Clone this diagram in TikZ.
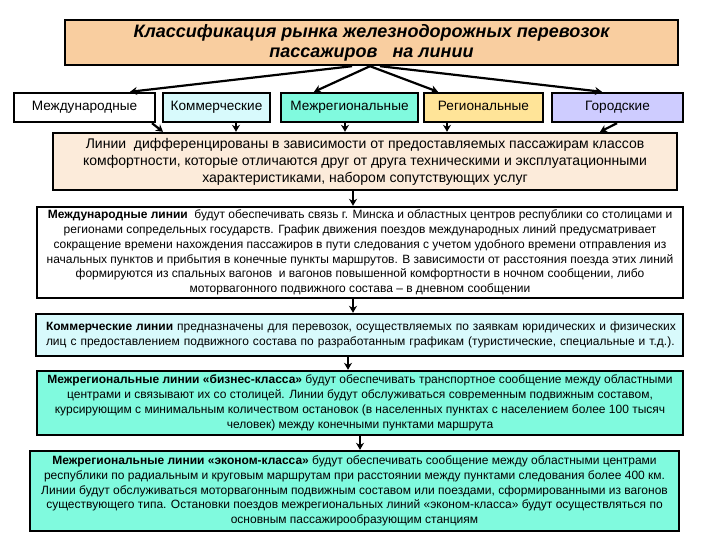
\documentclass[tikz,border=0pt]{standalone}
\usepackage{fontspec}
\setmainfont{Liberation Sans}
\usetikzlibrary{arrows.meta}
\definecolor{titlefill}{RGB}{249,206,160}
\definecolor{descfill}{RGB}{252,235,218}
\definecolor{commfill}{RGB}{216,250,252}
\definecolor{aquafill}{RGB}{128,250,222}
\definecolor{regfill}{RGB}{255,228,152}
\definecolor{cityfill}{RGB}{206,204,255}
\tikzset{
  box/.style={draw=black, line width=2.4pt, inner sep=0pt, align=center},
  rowbox/.style={box, minimum height=29pt, text height=10pt, text depth=3pt, font=\fontsize{13.6}{15}\selectfont},
  textbox/.style={box, font=\fontsize{12}{14.8}\selectfont},
  arr/.style={draw=black, line width=2.2pt, -{Stealth[length=7pt,width=8pt]}},
}
\begin{document}
\begin{tikzpicture}[x=1pt,y=-1pt]
\useasboundingbox (0,0) rectangle (720,540);
\node[box, fill=titlefill, minimum width=613pt, minimum height=45pt,
  font=\fontsize{18}{20}\selectfont\bfseries\itshape] (title) at (371.5,42.5)
  {Классификация рынка железнодорожных перевозок\\пассажиров\ \ \ на линии};
\node[rowbox, fill=white, minimum width=141pt] (m1) at (84.5,107.5) {Международные};
\node[rowbox, fill=commfill, minimum width=107pt] (m2) at (216.5,107.5) {Коммерческие};
\node[rowbox, fill=aquafill, minimum width=137pt] (m3) at (349.5,107.5) {Межрегиональные};
\node[rowbox, fill=regfill, minimum width=119pt] (m4) at (483.5,107.5) {Региональные};
\node[rowbox, fill=cityfill, minimum width=131pt] (m5) at (617.5,107.5) {Городские};
\node[box, fill=descfill, minimum width=624pt, minimum height=57pt,
  font=\fontsize{14}{17}\selectfont] (desc) at (365,161.5)
  {Линии\ \ дифференцированы в зависимости от предоставляемых пассажирам классов\\
   комфортности, которые отличаются друг от друга техническими и эксплуатационными\\
   характеристиками, набором сопутствующих услуг};
\node[textbox, fill=white, minimum width=646pt, minimum height=91pt] (b2) at (360,252.5)
  {\textbf{Международные линии}\ \ будут обеспечивать связь г. Минска и областных центров республики со столицами и\\
   регионами сопредельных государств. График движения поездов международных линий предусматривает\\
   сокращение времени нахождения пассажиров в пути следования с учетом удобного времени отправления из\\
   начальных пунктов и прибытия в конечные пункты маршрутов. В зависимости от расстояния поезда этих линий\\
   формируются из спальных вагонов\ \ и вагонов повышенной комфортности в ночном сообщении, либо\\
   моторвагонного подвижного состава – в дневном сообщении};
\node[textbox, fill=commfill, minimum width=647pt, minimum height=42pt, align=left, text width=640pt] (b3) at (359.5,335)
  {\hspace*{6.5pt}\textbf{Коммерческие линии} предназначены для перевозок, осуществляемых по заявкам юридических и физических\\
   \hspace*{6.5pt}лиц с предоставлением подвижного состава по разработанным графикам (туристические, специальные и т.д.).};
\node[textbox, fill=aquafill, minimum width=646pt, minimum height=64pt] (b4) at (360,403)
  {\textbf{Межрегиональные линии «бизнес-класса»} будут обеспечивать транспортное сообщение между областными\\
   центрами и связывают их со столицей. Линии будут обслуживаться современным подвижным составом,\\
   курсирующим с минимальным количеством остановок (в населенных пунктах с населением более 100 тысяч\\
   человек) между конечными пунктами маршрута};
\node[textbox, fill=aquafill, minimum width=649pt, minimum height=80pt] (b5) at (354.5,491)
  {\textbf{Межрегиональные линии «эконом-класса»} будут обеспечивать сообщение между областными центрами\\
   республики по радиальным и круговым маршрутам при расстоянии между пунктами следования более 400 км.\\
   Линии будут обслуживаться моторвагонным подвижным составом или поездами, сформированными из вагонов\\
   существующего типа. Остановки поездов межрегиональных линий «эконом-класса» будут осуществляться по\\
   основным пассажирообразующим станциям};
% title to row
\draw[arr] ([xshift=-19.5pt]title.south) -- ([xshift=45.5pt]m1.north);
\draw[arr] ([xshift=-1.5pt]title.south) -- ([xshift=-35.5pt]m3.north);
\draw[arr] ([xshift=-1.5pt]title.south) -- ([xshift=-45.5pt]m4.north);
\draw[arr] ([xshift=8.5pt]title.south) -- ([xshift=-15.5pt]m5.north);
% row to desc
\draw[arr] ([xshift=67.5pt]m1.south) -- ([xshift=-202pt]desc.north);
\draw[arr] ([xshift=19.5pt]m2.south) -- ([xshift=19.5pt]m2.south |- desc.north);
\draw[arr] ([xshift=-4.5pt]m3.south) -- ([xshift=-4.5pt]m3.south |- desc.north);
\draw[arr] ([xshift=-36.5pt]m4.south) -- ([xshift=-36.5pt]m4.south |- desc.north);
\draw[arr] ([xshift=-0.5pt]m5.south) -- ([xshift=235pt]desc.north);
% vertical chain
\draw[arr] ([xshift=-12pt]desc.south) -- ([xshift=-12pt]desc.south |- b2.north);
\draw[arr] ([xshift=-7pt]b2.south) -- ([xshift=-7pt]b2.south |- b3.north);
\draw[arr] ([xshift=-11.5pt]b3.south) -- ([xshift=-11.5pt]b3.south |- b4.north);
\draw[arr] (b4.south) -- (b4.south |- b5.north);
\end{tikzpicture}
\end{document}
